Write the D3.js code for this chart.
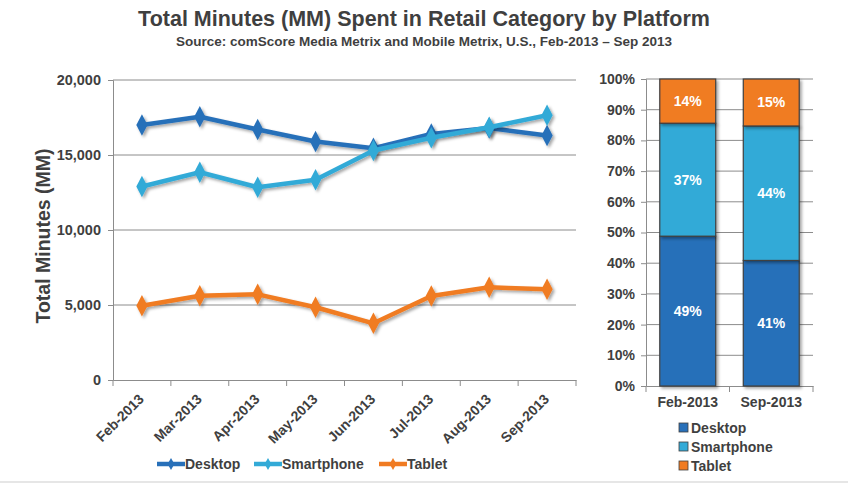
<!DOCTYPE html>
<html><head><meta charset="utf-8">
<script src="https://cdn.jsdelivr.net/npm/d3@7"></script>
<style>
body{margin:0;background:#fff;}
svg{display:block;}
text{font-family:"Liberation Sans",Arial,sans-serif;}
</style></head><body>
<svg id="c" width="848" height="483"></svg>
<script>
const months = ["Feb-2013","Mar-2013","Apr-2013","May-2013","Jun-2013","Jul-2013","Aug-2013","Sep-2013"];
const seriesNames = ["Desktop","Smartphone","Tablet"];
const desktop = [17000,17550,16700,15900,15450,16400,16800,16300];
const smartphone = [12900,13850,12850,13350,15300,16150,16850,17650];
const tablet = [4950,5620,5710,4850,3780,5600,6180,6050];
const yTicks = [0,5000,10000,15000,20000];
const barCats = ["Feb-2013","Sep-2013"];
const barDesktop = [48.8,40.9];
const barSmartphone = [36.8,43.8];
const barTablet = [14.4,15.3];
const barLabels = [["49%","37%","14%"],["41%","44%","15%"]];
const pctTicks = [0,10,20,30,40,50,60,70,80,90,100];
const colors = ["#2870b9","#33aad7","#f07b22"];
const textCol = "#3f3f3f";

const svg = d3.select("#c");
const defs = svg.append("defs");
const f = defs.append("filter").attr("id","sh").attr("x","-20%").attr("y","-20%").attr("width","140%").attr("height","140%");
f.append("feDropShadow").attr("dx",2).attr("dy",2).attr("stdDeviation",1.5).attr("flood-color","#000").attr("flood-opacity",0.35);

// Titles
svg.append("text").attr("x",424).attr("y",26).attr("text-anchor","middle")
  .attr("font-family","'Liberation Sans Narrow','Arial Narrow',sans-serif")
  .attr("font-weight","bold").attr("font-size",21.5).attr("fill",textCol)
  .text("Total Minutes (MM) Spent in Retail Category by Platform");
svg.append("text").attr("x",424).attr("y",46).attr("text-anchor","middle")
  .attr("font-family","'Liberation Sans Narrow','Arial Narrow',sans-serif")
  .attr("font-weight","bold").attr("font-size",13.5).attr("fill",textCol)
  .text("Source: comScore Media Metrix and Mobile Metrix, U.S., Feb-2013 \u2013 Sep 2013");

// ---- Line chart ----
const L = {x0:113,x1:576,y0:380,y1:80};
const x = d3.scaleBand().domain(months).range([L.x0,L.x1]);
const y = d3.scaleLinear().domain([0,20000]).range([L.y0,L.y1]);
const g = svg.append("g");
g.selectAll(".gl").data(yTicks.filter(d=>d>0)).join("line")
  .attr("x1",L.x0).attr("x2",L.x1).attr("y1",d=>y(d)).attr("y2",d=>y(d))
  .attr("stroke","#8c8c8c").attr("stroke-width",1);
const yAx = g.append("g").attr("transform",`translate(${L.x0},0)`)
  .call(d3.axisLeft(y).tickValues(yTicks).tickSize(5).tickFormat(d3.format(",")));
yAx.select(".domain").attr("stroke","#8c8c8c");
yAx.selectAll(".tick line").attr("stroke","#8c8c8c");
yAx.selectAll("text").attr("font-size",14.5).attr("font-weight","bold").attr("fill",textCol).attr("dx",-4);
const xAx = g.append("g").attr("transform",`translate(0,${L.y0})`)
  .call(d3.axisBottom(x).tickSize(0).tickFormat(""));
xAx.select(".domain").attr("stroke","#8c8c8c");
const bounds = months.map(m=>x(m)).concat([L.x1]);
g.selectAll(".bt").data(bounds).join("line").attr("x1",d=>d).attr("x2",d=>d)
  .attr("y1",L.y0).attr("y2",L.y0+6).attr("stroke","#8c8c8c");
g.selectAll(".xl").data(months).join("text")
  .attr("transform",d=>`translate(${x(d)+x.bandwidth()/2-4},${L.y0+13}) rotate(-45)`)
  .attr("text-anchor","end").attr("dy","0.7em").attr("font-size",14).attr("font-weight","bold").attr("fill",textCol)
  .text(d=>d);
svg.append("text").attr("transform","translate(50,236) rotate(-90)").attr("text-anchor","middle")
  .attr("font-size",19.5).attr("font-weight","bold").attr("fill",textCol).text("Total Minutes (MM)");

const allSeries = [desktop,smartphone,tablet];
const line = d3.line().x((d,i)=>x(months[i])+x.bandwidth()/2).y(d=>y(d));
const diamond = d3.symbol().type(d3.symbolDiamond).size(110);
[2,0,1].forEach(si=>{
  const s = allSeries[si];
  const sg = g.append("g").attr("filter","url(#sh)");
  sg.append("path").datum(s).attr("d",line).attr("fill","none").attr("stroke",colors[si]).attr("stroke-width",4.5).attr("stroke-linejoin","round");
  sg.selectAll("path.m").data(s).join("path").attr("class","m")
    .attr("transform",(d,i)=>`translate(${x(months[i])+x.bandwidth()/2},${y(d)}) scale(1,1.1)`)
    .attr("d",diamond).attr("fill",colors[si]);
});
const legX = [157,254,379];
seriesNames.forEach((n,i)=>{
  const lg = svg.append("g").attr("transform",`translate(${legX[i]},464)`);
  lg.append("line").attr("x1",0).attr("x2",28).attr("stroke",colors[i]).attr("stroke-width",4.5);
  lg.append("path").attr("d",d3.symbol().type(d3.symbolDiamond).size(40)()).attr("transform","translate(14,0)").attr("fill",colors[i]);
  lg.append("text").attr("x",28).attr("y",0).attr("dy","0.35em").attr("font-size",14).attr("font-weight","bold").attr("fill",textCol).text(n);
});

// ---- Bar chart ----
const B = {x0:646,x1:813,y0:386,y1:79};
const bx = d3.scaleBand().domain(barCats).range([B.x0,B.x1]).paddingInner(0.33).paddingOuter(0.165);
const by = d3.scaleLinear().domain([0,100]).range([B.y0,B.y1]);
const bg = svg.append("g");
bg.selectAll(".gl").data(pctTicks.filter(d=>d>0)).join("line")
  .attr("x1",B.x0).attr("x2",B.x1).attr("y1",d=>by(d)).attr("y2",d=>by(d))
  .attr("stroke","#8c8c8c");
const byAx = bg.append("g").attr("transform",`translate(${B.x0},0)`)
  .call(d3.axisLeft(by).tickValues(pctTicks).tickSize(5).tickFormat(d=>d+"%"));
byAx.select(".domain").attr("stroke","#8c8c8c");
byAx.selectAll(".tick line").attr("stroke","#8c8c8c");
byAx.selectAll("text").attr("font-size",14).attr("font-weight","bold").attr("fill",textCol).attr("dx",-3);
const bxAx = bg.append("g").attr("transform",`translate(0,${B.y0})`)
  .call(d3.axisBottom(bx).tickSize(0));
bxAx.select(".domain").attr("stroke","#8c8c8c");
bxAx.selectAll("text").attr("font-size",14).attr("font-weight","bold").attr("fill",textCol).attr("dy","1.25em");
const bstep = (B.x1-B.x0)/barCats.length;
bg.selectAll(".bt").data([0,1,2]).join("line").attr("x1",d=>B.x0+d*bstep).attr("x2",d=>B.x0+d*bstep)
  .attr("y1",B.y0).attr("y2",B.y0+6).attr("stroke","#8c8c8c");

const stackData = barCats.map((c,i)=>({cat:c,Desktop:barDesktop[i],Smartphone:barSmartphone[i],Tablet:barTablet[i]}));
const stacked = d3.stack().keys(seriesNames)(stackData);
stacked.forEach((layer,li)=>{
  bg.selectAll(".r"+li).data(layer).join("rect")
    .attr("x",d=>bx(d.data.cat)).attr("width",bx.bandwidth())
    .attr("y",d=>by(d[1])).attr("height",d=>by(d[0])-by(d[1]))
    .attr("fill",colors[li]).attr("stroke","#404040").attr("stroke-width",1.2)
    .attr("filter","url(#sh)");
});
stacked.forEach((layer,li)=>{
  bg.selectAll(".t"+li).data(layer).join("text")
    .attr("x",d=>bx(d.data.cat)+bx.bandwidth()/2).attr("y",d=>by((d[0]+d[1])/2))
    .attr("dy","0.35em").attr("text-anchor","middle").attr("fill","#fff")
    .attr("font-size",14).attr("font-weight","bold")
    .text((d,i)=>barLabels[i][li]);
});
seriesNames.forEach((n,i)=>{
  const lg = svg.append("g").attr("transform",`translate(679,${428+i*19})`);
  lg.append("rect").attr("x",0).attr("y",-5).attr("width",9).attr("height",9).attr("fill",colors[i]).attr("stroke","#404040").attr("stroke-width",0.8);
  lg.append("text").attr("x",12).attr("y",0).attr("dy","0.35em").attr("font-size",14).attr("font-weight","bold").attr("fill",textCol).text(n);
});
svg.append("rect").attr("x",0).attr("y",481).attr("width",848).attr("height",2).attr("fill","#e6e6e6");
</script></body></html>
